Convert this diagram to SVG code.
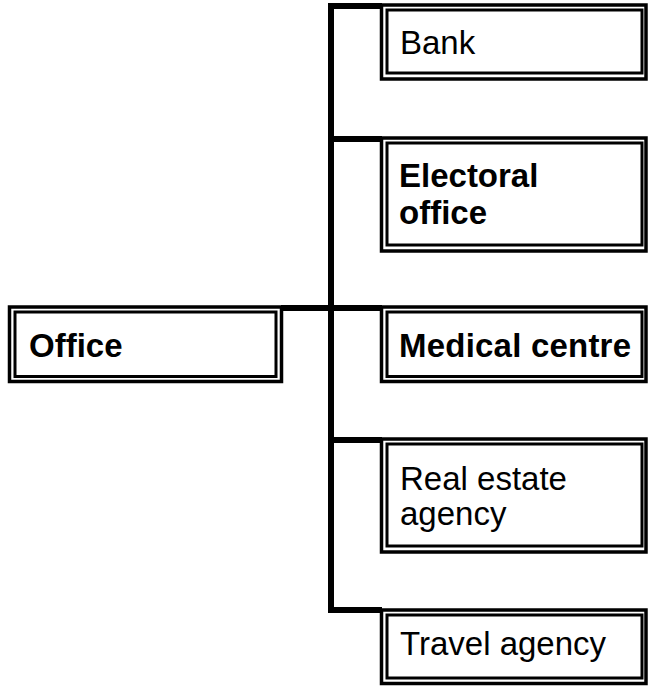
<svg xmlns="http://www.w3.org/2000/svg" width="648" height="686" viewBox="0 0 648 686">
<style>
.o{fill:#fff;stroke:#000;stroke-width:3.5}
.i{fill:none;stroke:#000;stroke-width:3}
.t{font-family:"Liberation Sans",Arial,sans-serif;font-size:33px;fill:#000}
.b{font-weight:bold}
.c{stroke:#000;stroke-width:6;fill:none}
</style>
<g id="connectors">
<path class="c" d="M331,3 V613"/>
<path class="c" d="M328,6 H382"/>
<path class="c" d="M331,139 H382"/>
<path class="c" d="M281,308 H382"/>
<path class="c" d="M331,440 H382"/>
<path class="c" d="M328,610 H382"/>
</g>
<g id="office">
<rect class="o" x="9.5" y="307" width="272" height="74.5"/>
<rect class="i" x="15" y="312" width="261" height="64.5"/>
<text class="t b" x="29" y="357">Office</text>
</g>
<g id="bank">
<rect class="o" x="381.5" y="5" width="264.5" height="74"/>
<rect class="i" x="387" y="10" width="255" height="63"/>
<text class="t" x="400" y="54">Bank</text>
</g>
<g id="electoral">
<rect class="o" x="381.5" y="138" width="264.5" height="113"/>
<rect class="i" x="387" y="143" width="255" height="102"/>
<text class="t b" x="399" y="187">Electoral</text>
<text class="t b" x="399" y="224">office</text>
</g>
<g id="medical">
<rect class="o" x="381.5" y="307" width="264.5" height="74.5"/>
<rect class="i" x="387" y="312" width="255" height="64.5"/>
<text class="t b" x="399" y="357" textLength="232">Medical centre</text>
</g>
<g id="realestate">
<rect class="o" x="381.5" y="439" width="264.5" height="113"/>
<rect class="i" x="387" y="444" width="255" height="102"/>
<text class="t" x="400" y="490">Real estate</text>
<text class="t" x="400" y="525">agency</text>
</g>
<g id="travel">
<rect class="o" x="381.5" y="610" width="264.5" height="73.5"/>
<rect class="i" x="387" y="615" width="255" height="63"/>
<text class="t" x="400" y="655">Travel agency</text>
</g>
</svg>
